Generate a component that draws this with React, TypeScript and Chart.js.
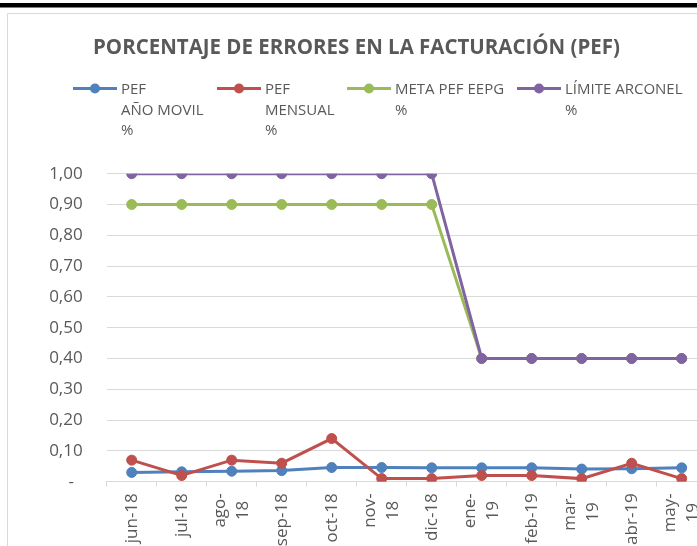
import React, { useEffect, useRef } from "react";
import { Chart, registerables } from "chart.js";

Chart.register(...registerables);

const TITLE = "PORCENTAJE DE ERRORES EN LA FACTURACIÓN (PEF)";

// category tick labels (multi-line where the original wraps)
const categories: string[][] = [
  ["jun-18"], ["jul-18"], ["ago-", "18"], ["sep-18"], ["oct-18"], ["nov-", "18"],
  ["dic-18"], ["ene-", "19"], ["feb-19"], ["mar-", "19"], ["abr-19"], ["may-", "19"],
];

const seriesNames: string[][] = [
  ["PEF", "AÑO MOVIL", "%"],
  ["PEF", "MENSUAL", "%"],
  ["META PEF EEPG", "%"],
  ["LÍMITE ARCONEL", "%"],
];

const pefAnoMovil = [0.030, 0.032, 0.034, 0.036, 0.046, 0.046, 0.045, 0.045, 0.045, 0.041, 0.042, 0.045];
const pefMensual = [0.07, 0.02, 0.07, 0.06, 0.14, 0.01, 0.01, 0.02, 0.02, 0.01, 0.06, 0.01];
const metaPefEepg = [0.9, 0.9, 0.9, 0.9, 0.9, 0.9, 0.9, 0.4, 0.4, 0.4, 0.4, 0.4];
const limiteArconel = [1, 1, 1, 1, 1, 1, 1, 0.4, 0.4, 0.4, 0.4, 0.4];

const Y_MIN = 0;
const Y_MAX = 1;
const Y_STEP = 0.1;

const COLORS = ["#4F81BD", "#C0504D", "#9BBB59", "#8064A2"];
const TEXT = "#595959";
const GRID = "#d9d9d9";
const FONT = '"Open Sans", "Noto Sans", sans-serif';

const CANVAS_W = 760;
const CANVAS_H = 600;

const formatY = (v: number) => (Math.abs(v) < 1e-9 ? "-  " : v.toFixed(2).replace(".", ","));

const decorPlugin = {
  id: "decor",
  beforeDraw(chart: any) {
    const ctx = chart.ctx as CanvasRenderingContext2D;
    ctx.save();
    ctx.fillStyle = "#ffffff";
    ctx.fillRect(0, 0, chart.width, chart.height);
    ctx.fillStyle = "#000000";
    ctx.fillRect(0, 3, chart.width, 4.5);
    ctx.strokeStyle = GRID;
    ctx.lineWidth = 1;
    ctx.beginPath();
    ctx.moveTo(7.5, chart.height);
    ctx.lineTo(7.5, 13.5);
    ctx.lineTo(chart.width, 13.5);
    ctx.stroke();
    ctx.restore();
  },
  afterDraw(chart: any) {
    const ctx = chart.ctx as CanvasRenderingContext2D;
    ctx.save();
    // title
    ctx.fillStyle = TEXT;
    ctx.font = `bold 21px ${FONT}`;
    ctx.textAlign = "center";
    ctx.textBaseline = "alphabetic";
    ctx.fillText(TITLE, 356.5, 53.5, 527);

    // legend
    const lx = [73, 217, 347, 517];
    const lineY = 88.5;
    const baselines = [94, 114.5, 135];
    ctx.font = `15px ${FONT}`;
    ctx.textAlign = "left";
    seriesNames.forEach((lines, i) => {
      const x0 = lx[i];
      ctx.strokeStyle = COLORS[i];
      ctx.lineWidth = 3;
      ctx.beginPath();
      ctx.moveTo(x0, lineY);
      ctx.lineTo(x0 + 44, lineY);
      ctx.stroke();
      ctx.fillStyle = COLORS[i];
      ctx.beginPath();
      ctx.arc(x0 + 22, lineY, 5, 0, Math.PI * 2);
      ctx.fill();
      ctx.fillStyle = TEXT;
      lines.forEach((t, j) => ctx.fillText(t, x0 + 48, baselines[j]));
    });

    // x tick labels (rotated, centered multi-line like the original)
    const xs = chart.scales.x;
    ctx.font = `17px ${FONT}`;
    ctx.fillStyle = TEXT;
    ctx.textAlign = "center";
    ctx.textBaseline = "middle";
    categories.forEach((lines, i) => {
      const x = xs.getPixelForTick(i);
      const w = Math.max(...lines.map((l) => ctx.measureText(l).width));
      const top = xs.top + 11.5;
      ctx.save();
      ctx.translate(x, top + w / 2);
      ctx.rotate(-Math.PI / 2);
      const n = lines.length;
      lines.forEach((l, j) => ctx.fillText(l, 0, (j - (n - 1) / 2) * 23.3));
      ctx.restore();
    });
    ctx.restore();
  },
};

export default function App() {
  const ref = useRef<HTMLCanvasElement | null>(null);

  useEffect(() => {
    if (!ref.current) return;
    const mk = (label: string, data: number[], color: string, order: number) => ({
      label,
      data,
      borderColor: color,
      backgroundColor: color,
      borderWidth: 3,
      pointRadius: 5,
      pointBorderWidth: 1,
      pointBackgroundColor: color,
      pointBorderColor: color,
      tension: 0,
      fill: false,
      order,
    });
    const chart = new Chart(ref.current, {
      type: "line",
      data: {
        labels: categories.map((c) => c.join("")),
        datasets: [
          mk(seriesNames[0].join(" "), pefAnoMovil, COLORS[0], 3),
          mk(seriesNames[1].join(" "), pefMensual, COLORS[1], 2),
          mk(seriesNames[2].join(" "), metaPefEepg, COLORS[2], 1),
          mk(seriesNames[3].join(" "), limiteArconel, COLORS[3], 0),
        ],
      },
      options: {
        responsive: false,
        animation: false,
        devicePixelRatio: 1,
        layout: { padding: { left: 0, right: 53.3, top: 173.7, bottom: 113.3 } },
        plugins: {
          legend: { display: false },
          title: { display: false },
          tooltip: { enabled: false },
        },
        scales: {
          x: {
            type: "category",
            offset: true,
            grid: {
              offset: true,
              drawOnChartArea: false,
              drawTicks: true,
              tickLength: 5,
              color: GRID,
              lineWidth: 1,
            },
            border: { display: true, color: GRID, width: 1 },
            ticks: { display: false },
            afterFit: (s: any) => {
              s.height = 5;
            },
          },
          y: {
            min: Y_MIN,
            max: Y_MAX,
            grid: { drawTicks: false, color: GRID, lineWidth: 1 },
            border: { display: false },
            ticks: {
              stepSize: Y_STEP,
              padding: 24,
              color: TEXT,
              font: { family: FONT, size: 17 },
              callback: (v: any) => formatY(Number(v)),
            },
            afterFit: (s: any) => {
              s.width = 106.7;
            },
          },
        },
      },
      plugins: [decorPlugin],
    } as any);
    return () => chart.destroy();
  }, []);

  return (
    <div
      style={{
        position: "absolute",
        left: 0,
        top: 0,
        width: 697,
        height: 546,
        overflow: "hidden",
        background: "#fff",
      }}
    >
      <canvas ref={ref} width={CANVAS_W} height={CANVAS_H} style={{ display: "block", width: CANVAS_W, height: CANVAS_H }} />
    </div>
  );
}
